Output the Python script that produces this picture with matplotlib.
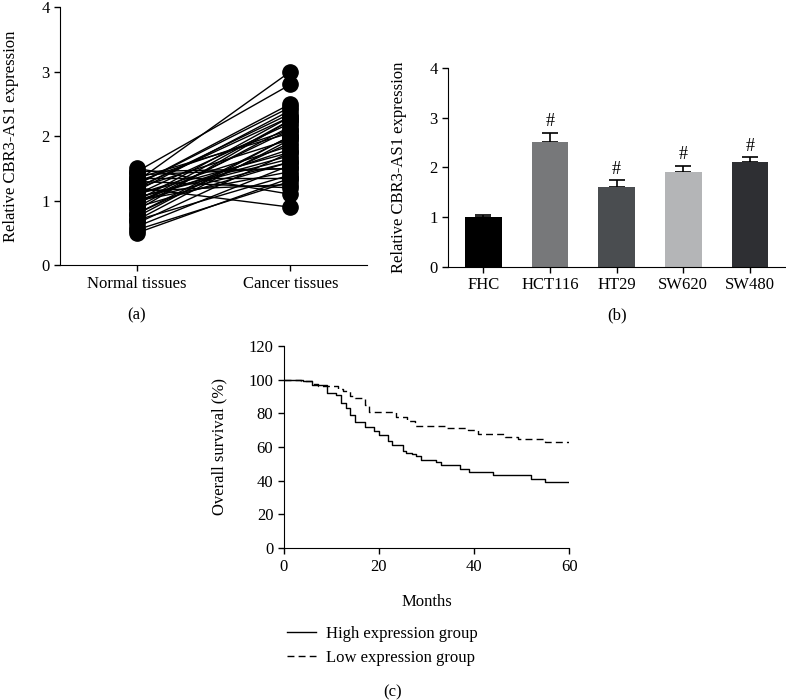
import numpy as np
import matplotlib.pyplot as plt

plt.rcParams['font.family'] = ['Liberation Serif', 'DejaVu Serif']
plt.rcParams['font.size'] = 12
plt.rcParams['xtick.labelsize'] = 12
plt.rcParams['ytick.labelsize'] = 12

# (a) paired tissue samples
normal = [0.50, 0.55, 0.60, 0.65, 0.70, 0.75, 0.80, 0.85, 0.90, 0.95,
          1.00, 1.00, 1.05, 1.10, 1.10, 1.15, 1.20, 1.20, 1.25, 1.30,
          1.30, 1.35, 1.40, 1.45, 1.50, 0.90, 1.00, 1.20, 1.05, 0.80,
          1.15, 1.25, 1.35, 0.70, 1.45, 0.95, 1.10, 1.30, 1.00, 1.20]
cancer = [1.35, 1.30, 1.55, 1.75, 1.40, 2.00, 1.90, 2.25, 1.60, 2.10,
          2.30, 1.45, 1.70, 2.20, 1.85, 2.40, 0.90, 1.95, 2.50, 3.00,
          1.20, 2.05, 1.50, 2.80, 1.10, 2.15, 1.80, 2.35, 1.65, 2.00,
          1.25, 2.45, 1.35, 1.95, 1.50, 2.25, 1.75, 2.10, 1.60, 2.30]
groups = ["Normal tissues", "Cancer tissues"]

# (b) cell lines
cells = ["FHC", "HCT116", "HT29", "SW620", "SW480"]
expr = [1.0, 2.5, 1.6, 1.9, 2.1]
err = [0.05, 0.2, 0.14, 0.13, 0.1]
bar_colors = ["#000000", "#77787a", "#4a4d50", "#b4b5b7", "#2e2f33"]

# (c) Kaplan-Meier steps (month, survival %)
high_t = [0, 4, 6, 9, 11, 12, 13, 14, 15, 17, 19, 20, 22, 22.7, 25, 25.8, 27, 27.8, 28.8, 32, 33, 37, 39, 44, 52, 55, 60]
high_s = [100, 99, 97, 92, 91, 86, 83, 79, 75, 72, 69.5, 67, 63.5, 61, 57.5, 56.5, 56, 54.5, 52.5, 51, 49, 47.2, 45, 43.5, 41, 39, 39]
low_t = [0, 3.7, 6.2, 7.2, 11.4, 12.5, 13.9, 15, 17, 17.9, 20.2, 23.7, 26, 27.7, 34.2, 38.8, 40.9, 46.5, 49.3, 55, 60]
low_s = [100, 99, 97.5, 96, 94.5, 93, 90.5, 89, 85, 81, 80.5, 78, 75.5, 72.5, 71.5, 70, 67.5, 66, 64.5, 63, 63]

fig = plt.figure(figsize=(7.86, 7.0), dpi=100)


def style(ax):
    for s in ["top", "right"]:
        ax.spines[s].set_visible(False)
    ax.tick_params(direction="out", length=4, width=1)


# panel a
ax1 = fig.add_axes([0.0763, 0.621, 0.391, 0.369])
for n, c in zip(normal, cancer):
    ax1.plot([0, 1], [n, c], color="black", lw=1, marker="o", markersize=11, zorder=2)
ax1.set_xlim(-0.5, 1.5)
ax1.set_ylim(0, 4)
ax1.set_yticks([0, 1, 2, 3, 4])
ax1.set_xticks([0, 1])
ax1.set_xticklabels(groups)
ax1.set_ylabel("Relative CBR3-AS1 expression", labelpad=16)
style(ax1)
fig.text(0.174, 0.549, "(a)", ha="center", va="center")

# panel b
ax2 = fig.add_axes([0.570, 0.619, 0.429, 0.284])
x = np.arange(len(cells))
ax2.bar(x, expr, width=0.55, color=bar_colors, zorder=2)
ax2.errorbar(x, expr, yerr=[np.zeros(len(err)), err], fmt="none", ecolor="black",
             elinewidth=1.2, capsize=6, capthick=1.2, zorder=1)
for xi, v, e, c in zip(x, expr, err, cells):
    if c != "FHC":
        ax2.text(xi, v + e + 0.05, "#", ha="center", va="bottom", fontsize=13)
ax2.set_xlim(-0.53, 4.53)
ax2.set_ylim(0, 4)
ax2.set_yticks([0, 1, 2, 3, 4])
ax2.set_xticks(x)
ax2.set_xticklabels(cells)
ax2.set_ylabel("Relative CBR3-AS1 expression", labelpad=16)
style(ax2)
fig.text(0.785, 0.55, "(b)", ha="center", va="center")

# panel c
ax3 = fig.add_axes([0.361, 0.217, 0.363, 0.289])
ax3.step(high_t, high_s, where="post", color="black", lw=1, label="High expression group")
ax3.step(low_t, low_s, where="post", color="black", lw=1, ls=(0, (5, 3)), label="Low expression group")
ax3.set_xlim(0, 60)
ax3.set_ylim(0, 120)
ax3.set_xticks([0, 20, 40, 60])
ax3.set_yticks(range(0, 121, 20))
ax3.set_ylabel("Overall survival (%)", labelpad=15)
style(ax3)
fig.text(0.543, 0.14, "Months", ha="center", va="center")
fig.legend(loc="upper left", bbox_to_anchor=(0.357, 0.115), frameon=False,
           handlelength=1.75, handletextpad=0.6, labelspacing=0.45, borderaxespad=0)
fig.text(0.5, 0.011, "(c)", ha="center", va="center")

fig.savefig("out.png", dpi=100)
